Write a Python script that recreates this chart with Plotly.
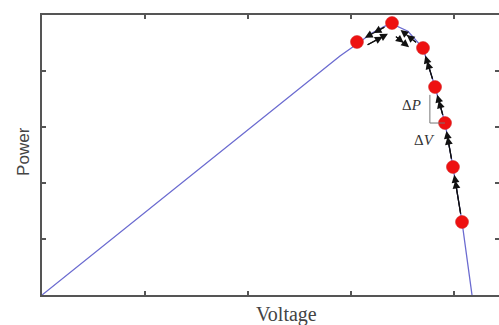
import plotly.graph_objects as go

# P-V curve (arbitrary units)
voltage = [0.0, 1.534, 2.893, 3.058, 3.204, 3.330, 3.398, 3.553, 3.699, 3.816, 3.913, 3.990, 4.078, 4.175]
power = [0.0, 2.268, 4.268, 4.482, 4.679, 4.800, 4.840, 4.710, 4.411, 3.714, 3.071, 2.286, 1.304, 0.0]

# Perturb & observe operating points
op_v = [3.058, 3.398, 3.699, 3.816, 3.913, 3.990, 4.078]
op_p = [4.518, 4.857, 4.411, 3.714, 3.071, 2.286, 1.304]

tick_vals = [1, 2, 3, 4]
x_label = "Voltage"
y_label = "Power"
dp_label = "Δ<i>P</i>"
dv_label = "Δ<i>V</i>"

AX = "#555555"
fig = go.Figure()
fig.add_trace(go.Scatter(x=voltage, y=power, mode="lines",
                         line=dict(color="#6b6bd0", width=1.3), hoverinfo="skip"))
fig.add_trace(go.Scatter(x=op_v, y=op_p, mode="markers",
                         marker=dict(color="#ee1111", size=13,
                                     line=dict(color="#cc2222", width=0.5)),
                         hoverinfo="skip"))
fig.add_trace(go.Scatter(x=[], y=[], yaxis="y2", showlegend=False))

annotations = []


def arrow(i_from, i_to, standoffs, xshift=0, yshift=0):
    for so in standoffs:
        annotations.append(dict(
            x=op_v[i_to], y=op_p[i_to], ax=op_v[i_from], ay=op_p[i_from],
            xref="x", yref="y", axref="x", ayref="y", text="",
            showarrow=True, arrowhead=2, arrowsize=1.3, arrowwidth=1.2,
            arrowcolor="#111111", standoff=so, startstandoff=7,
            xshift=xshift, yshift=yshift))


# oscillation around the maximum power point
arrow(1, 0, [9, 19])
arrow(0, 1, [8, 14], xshift=3, yshift=-7)
arrow(2, 1, [11, 19])
arrow(1, 2, [14, 21], xshift=-3, yshift=-8)
# climbing the right-hand side of the curve
for i in range(2, len(op_v) - 1):
    arrow(i + 1, i, [8, 14])

# delta P / delta V labels
annotations.append(dict(x=op_v[4], y=op_p[4], xref="x", yref="y", text=dp_label,
                        showarrow=False, xanchor="right", yanchor="middle",
                        xshift=-22, yshift=18,
                        font=dict(family="Liberation Serif", size=15, color="#333")))
annotations.append(dict(x=op_v[4], y=op_p[4], xref="x", yref="y", text=dv_label,
                        showarrow=False, xanchor="right", yanchor="middle",
                        xshift=-8, yshift=-17,
                        font=dict(family="Liberation Serif", size=15, color="#333")))
# axis labels
annotations.append(dict(x=0.534, y=-0.071, xref="paper", yref="paper", text=x_label,
                        showarrow=False, xanchor="center", yanchor="middle",
                        font=dict(family="Liberation Serif", size=20, color="#444")))
annotations.append(dict(x=-0.042, y=0.514, xref="paper", yref="paper", text=y_label,
                        showarrow=False, xanchor="center", yanchor="middle", textangle=-90,
                        font=dict(family="Liberation Sans", size=17, color="#444")))

tri_x = op_v[3] - 0.05
shapes = [dict(type="path", xref="x", yref="y",
               path=f"M {tri_x} {op_p[3] - 0.14} L {tri_x} {op_p[4]} L {op_v[4]} {op_p[4]}",
               line=dict(color="#777777", width=1))]

axis_common = dict(showgrid=False, zeroline=False, showticklabels=False,
                   ticks="inside", ticklen=4, tickcolor=AX, tickwidth=1.5,
                   tickvals=tick_vals)

fig.update_layout(
    width=499, height=325,
    margin=dict(l=42, r=0, t=15, b=30),
    plot_bgcolor="white", paper_bgcolor="white",
    showlegend=False,
    xaxis=dict(range=[0, 4.437], showline=True, linecolor=AX, linewidth=2,
               mirror="ticks", **axis_common),
    yaxis=dict(range=[0, 5], showline=True, linecolor=AX, linewidth=2,
               mirror=False, **axis_common),
    yaxis2=dict(range=[0, 5], overlaying="y", side="right", showline=False,
                **axis_common),
    annotations=annotations,
    shapes=shapes,
)

# remove the default page margin so the 499x325 figure fills the window exactly
fig.write_html("out.html", config={"displayModeBar": False},
               post_script="document.body.style.margin='0';"
                           "document.documentElement.style.overflow='hidden';")
